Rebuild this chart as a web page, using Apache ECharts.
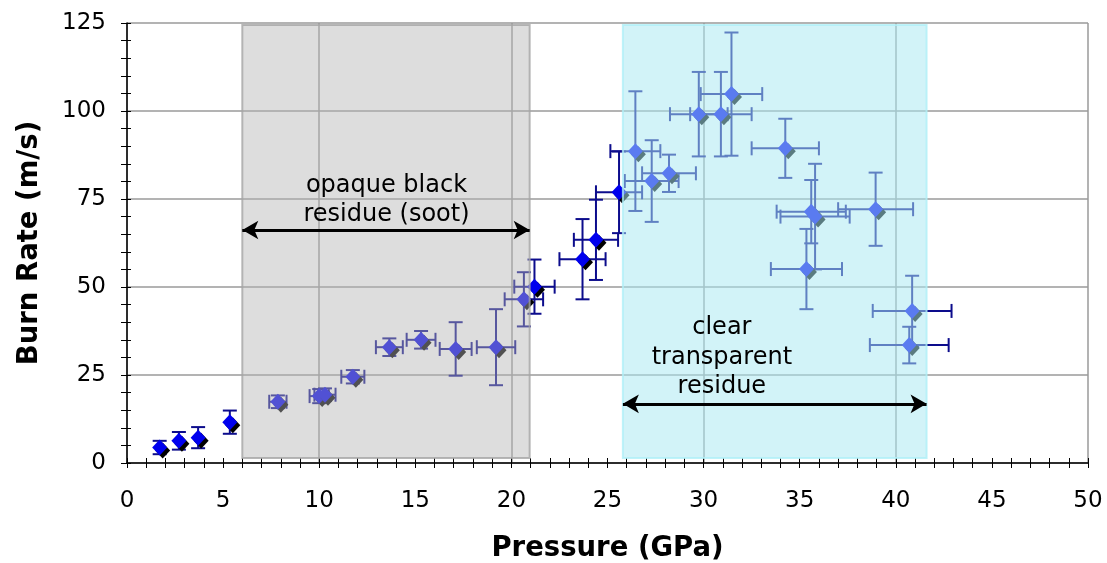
<!DOCTYPE html>
<html>
<head>
<meta charset="utf-8">
<script src="https://cdn.jsdelivr.net/npm/echarts@6/dist/echarts.min.js"></script>
<style>
  html, body { margin: 0; padding: 0; background: #fff; }
  #chart { width: 1107px; height: 563px; }
</style>
</head>
<body>
<div id="chart"></div>
<script>
// measured points: pressure (GPa), burn rate (m/s) and their error bars
const pressure    = [1.7, 2.7, 3.7, 5.35, 7.85, 10.0, 10.3, 11.75, 13.65, 15.3, 17.1, 19.2, 20.65, 21.2, 23.7, 24.4, 25.6, 26.45, 27.3, 28.2, 29.75, 30.9, 31.45, 34.25, 35.6, 35.8, 35.35, 38.95, 40.85, 40.7];
const burnRate    = [4.4, 6.3, 7.2, 11.6, 17.4, 19.0, 19.4, 24.5, 32.9, 35.0, 32.4, 32.9, 46.5, 50.1, 57.9, 63.4, 76.9, 88.6, 80.1, 82.3, 99.1, 99.1, 104.8, 89.4, 71.4, 70.0, 55.1, 72.1, 43.2, 33.5];
const pressureErr = [0, 0, 0, 0, 0.45, 0.5, 0.55, 0.6, 0.7, 0.75, 0.83, 1.0, 1.0, 1.05, 1.2, 1.15, 1.2, 1.3, 1.4, 1.4, 1.5, 1.6, 1.6, 1.75, 1.8, 1.8, 1.85, 1.95, 2.05, 2.05];
const burnErr     = [1.9, 2.5, 3.0, 3.3, 1.8, 2.0, 1.8, 1.9, 2.5, 2.5, 7.6, 10.8, 7.7, 7.7, 11.4, 11.4, 11.6, 17.0, 11.6, 5.3, 12.0, 12.0, 17.5, 8.4, 9.0, 15.0, 11.4, 10.4, 10.0, 5.2];

// residue regions (GPa) and annotation placement (data units)
const sootRange  = [6.0, 20.95];
const clearRange = [25.8, 41.6];
const regionY    = [1.4, 124.4];
const sootArrowY  = 66.2;
const clearArrowY = 16.8;
const sootText  = 'opaque black\nresidue (soot)';
const clearText = 'clear\ntransparent\nresidue';
const sootTextPos  = [13.5, 74.6];
const clearTextPos = [30.95, 29.9];

const points = pressure.map((p, i) => [p, burnRate[i], pressureErr[i], burnErr[i]]);

const font = 'DejaVu Sans';
const chart = echarts.init(document.getElementById('chart'));

function errorBars(params, api) {
  const x = api.value(0), y = api.value(1), dx = api.value(2), dy = api.value(3);
  const c = api.coord([x, y]);
  const l = api.coord([x - dx, y]), r = api.coord([x + dx, y]);
  const t = api.coord([x, y + dy]), b = api.coord([x, y - dy]);
  const cap = 7;
  const style = { stroke: '#0c0c8c', lineWidth: 2 };
  const seg = (x1, y1, x2, y2) => ({ type: 'line', shape: { x1, y1, x2, y2 }, style });
  const kids = [
    seg(c[0], t[1], c[0], b[1]),
    seg(c[0] - cap, t[1], c[0] + cap, t[1]),
    seg(c[0] - cap, b[1], c[0] + cap, b[1])
  ];
  if (dx > 0) {
    kids.push(seg(l[0], c[1], r[0], c[1]));
    kids.push(seg(l[0], c[1] - cap, l[0], c[1] + cap));
    kids.push(seg(r[0], c[1] - cap, r[0], c[1] + cap));
  }
  return { type: 'group', children: kids };
}

const axisTxt = { color: '#000', fontFamily: font, fontSize: 23 };

chart.setOption({
  animation: false,
  grid: { left: 127, right: 19, top: 23, bottom: 100, containLabel: false, outerBoundsMode: 'none' },
  xAxis: [
    {
      type: 'value', min: 0, max: 50, interval: 5,
      name: 'Pressure (GPa)', nameLocation: 'middle', nameGap: 72,
      nameTextStyle: { color: '#000', fontFamily: font, fontSize: 27.5, fontWeight: 'bold' },
      axisLine: { show: true, onZero: false, lineStyle: { color: '#000', width: 1.5 } },
      axisTick: { show: true, length: 5, lineStyle: { color: '#000' } },
      minorTick: { show: true, splitNumber: 5, length: 5, lineStyle: { color: '#000' } },
      axisLabel: Object.assign({ margin: 27 }, axisTxt),
      splitLine: { show: false }
    },
    {
      type: 'value', min: 0, max: 50, interval: 10, position: 'bottom',
      axisLine: { show: false },
      axisTick: { show: true, inside: true, length: 5, lineStyle: { color: '#000' } },
      minorTick: { show: true, splitNumber: 10, length: 5, lineStyle: { color: '#000' } },
      axisLabel: { show: false },
      splitLine: { show: true, lineStyle: { color: '#9a9a9a', width: 1.5 } }
    }
  ],
  yAxis: [
    {
      type: 'value', min: 0, max: 125, interval: 25,
      name: 'Burn Rate (m/s)', nameLocation: 'middle', nameGap: 83,
      nameTextStyle: { color: '#000', fontFamily: font, fontSize: 27.5, fontWeight: 'bold' },
      axisLine: { show: true, onZero: false, lineStyle: { color: '#000', width: 1.5 } },
      axisTick: { show: true, length: 6, lineStyle: { color: '#000' } },
      minorTick: { show: true, splitNumber: 5, length: 6, lineStyle: { color: '#000' } },
      axisLabel: Object.assign({ margin: 21 }, axisTxt),
      splitLine: { show: true, lineStyle: { color: '#9a9a9a', width: 1.5 } }
    },
    {
      type: 'value', min: 0, max: 125, interval: 25, position: 'left',
      axisLine: { show: false },
      axisTick: { show: true, inside: true, length: 4, lineStyle: { color: '#000' } },
      minorTick: { show: true, splitNumber: 5, length: 4, lineStyle: { color: '#000' } },
      axisLabel: { show: false },
      splitLine: { show: false }
    }
  ],
  series: [
    {
      type: 'custom', name: 'error',
      renderItem: errorBars,
      encode: { x: 0, y: 1 },
      data: points, z: 2
    },
    {
      type: 'scatter', name: 'burn rate',
      symbol: 'diamond', symbolSize: [15, 16],
      itemStyle: { color: '#0000ee', opacity: 1, shadowColor: '#000', shadowOffsetX: 3, shadowOffsetY: 3, shadowBlur: 0 },
      data: points.map(p => [p[0], p[1]]), z: 3
    },
    {
      type: 'scatter', name: 'regions',
      symbolSize: 0, silent: true, z: 5,
      data: [],
      markArea: {
        silent: true, z: 10,
        data: [
          [{ coord: [sootRange[0], regionY[1]], itemStyle: { color: 'rgba(180,180,180,0.45)', borderColor: 'rgba(165,165,165,0.8)', borderWidth: 2 } },
           { coord: [sootRange[1], regionY[0]] }],
          [{ coord: [clearRange[0], regionY[1]], itemStyle: { color: 'rgba(170,232,242,0.53)', borderColor: 'rgba(175,240,248,0.8)', borderWidth: 2 } },
           { coord: [clearRange[1], regionY[0]] }]
        ]
      }
    },
    {
      type: 'scatter', name: 'notes',
      symbolSize: 0, silent: true, z: 20,
      itemStyle: { opacity: 1 },
      data: [
        { value: sootTextPos, label: { formatter: sootText } },
        { value: clearTextPos, label: { formatter: clearText } }
      ],
      label: { show: true, position: 'inside', color: '#000', textBorderWidth: 0, fontFamily: font, fontSize: 24, lineHeight: 29.5, align: 'center' },
      markLine: {
        silent: true, z: 20,
        symbol: ['arrow', 'arrow'], symbolSize: [14, 16],
        lineStyle: { color: '#000', width: 3, type: 'solid', opacity: 1 },
        label: { show: false },
        data: [
          [{ coord: [sootRange[0], sootArrowY] }, { coord: [sootRange[1], sootArrowY] }],
          [{ coord: [clearRange[0], clearArrowY] }, { coord: [clearRange[1], clearArrowY] }]
        ]
      }
    }
  ]
});
</script>
</body>
</html>
